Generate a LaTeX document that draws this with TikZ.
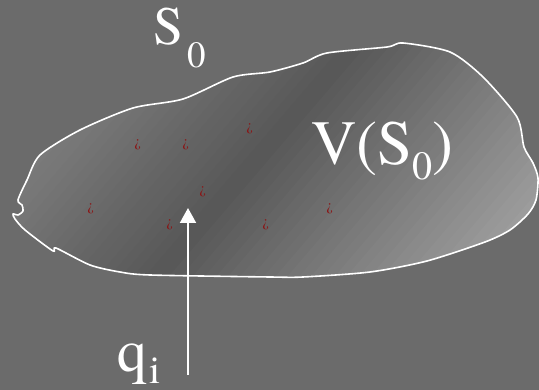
\documentclass[tikz,border=0pt]{standalone}
\usepackage{fontspec}
\setmainfont{TeX Gyre Termes}
\usetikzlibrary{arrows.meta}
\definecolor{bg}{HTML}{6B6B6B}
\definecolor{blobL}{HTML}{929292}
\definecolor{blobM}{HTML}{575757}
\definecolor{blobR}{HTML}{AEAEAE}
\definecolor{mark}{HTML}{8B1515}
\tikzset{
  lbl/.style={text=white, inner sep=0pt, anchor=base west, font=\rmfamily},
  pt/.style={text=mark, inner sep=0pt, font=\rmfamily\fontsize{15}{15}\selectfont},
  outline/.style={draw=white, line width=1.6pt, line join=round},
  arr/.style={draw=white, line width=2pt, -{Triangle[width=16pt,length=15pt]}}
}
\begin{document}
\begin{tikzpicture}[x=1pt,y=-1pt]
\fill[bg] (0,0) rectangle (539,390);
\useasboundingbox (0,0) rectangle (539,390);
\def\blobpath{plot[smooth cycle, tension=0.45] coordinates {
  (40,155) (80,130) (133,108) (183,99) (233,77) (270,72) (303,63) (327,53)
  (387,47) (403,43) (450,52) (483,77) (517,117) (524,147) (533,163) (538,178)
  (536,200) (528,214) (510,230) (485,242) (427,261) (370,272) (303,277) (270,277)
  (150,275) (120,272) (90,265) (56,248) (53,251) (25,230) (15,219) (13,214)
  (18,215) (23,211) (22,205) (18,200) (27,180)}}
% blob gradient fill
\begin{scope}
\clip \blobpath;
\foreach \i in {0,...,63}{
  \pgfmathsetmacro\ta{20+\i*9}
  \pgfmathsetmacro\tb{\ta+9.8}
  \pgfmathsetmacro\tm{\ta+4.5}
  \ifdim\tm pt<300pt
    \pgfmathsetmacro\p{(\tm-20)/280*100}
    \colorlet{cc}{blobM!\p!blobL}
  \else
    \pgfmathsetmacro\p{(\tm-300)/300*100}
    \colorlet{cc}{blobR!\p!blobM}
  \fi
  \fill[cc] ({\ta*0.76-455},{\ta*0.65+532}) -- ({\ta*0.76+455},{\ta*0.65-532})
    -- ({\tb*0.76+455},{\tb*0.65-532}) -- ({\tb*0.76-455},{\tb*0.65+532}) -- cycle;
}
\end{scope}
\draw[outline] \blobpath;
% red marks
\node[pt] (m1) at (138,145) {¿};
\node[pt] (m2) at (186,145) {¿};
\node[pt] (m3) at (250,129) {¿};
\node[pt] (m4) at (203,192) {¿};
\node[pt] (m5) at (91,209) {¿};
\node[pt] (m6) at (170,225) {¿};
\node[pt] (m7) at (266,225) {¿};
\node[pt] (m8) at (330,209) {¿};
% labels
\node[lbl] (s0) at (153,45) {\fontsize{54}{54}\selectfont S\hspace{4pt}\raisebox{-23pt}{\fontsize{37}{37}\selectfont 0}};
\node[lbl] (vs0) at (311,165) {\fontsize{63}{63}\selectfont V(S\raisebox{-15pt}{\fontsize{40}{40}\selectfont 0})};
\node[lbl] (q) at (117,372) {\fontsize{60}{60}\selectfont q\hspace{2pt}\raisebox{-12pt}{\fontsize{40}{40}\selectfont i}};
% arrow
\coordinate (qa) at (188,375);
\coordinate (qb) at (188,208);
\draw[arr] (qa) -- (qb);
\end{tikzpicture}
\end{document}
